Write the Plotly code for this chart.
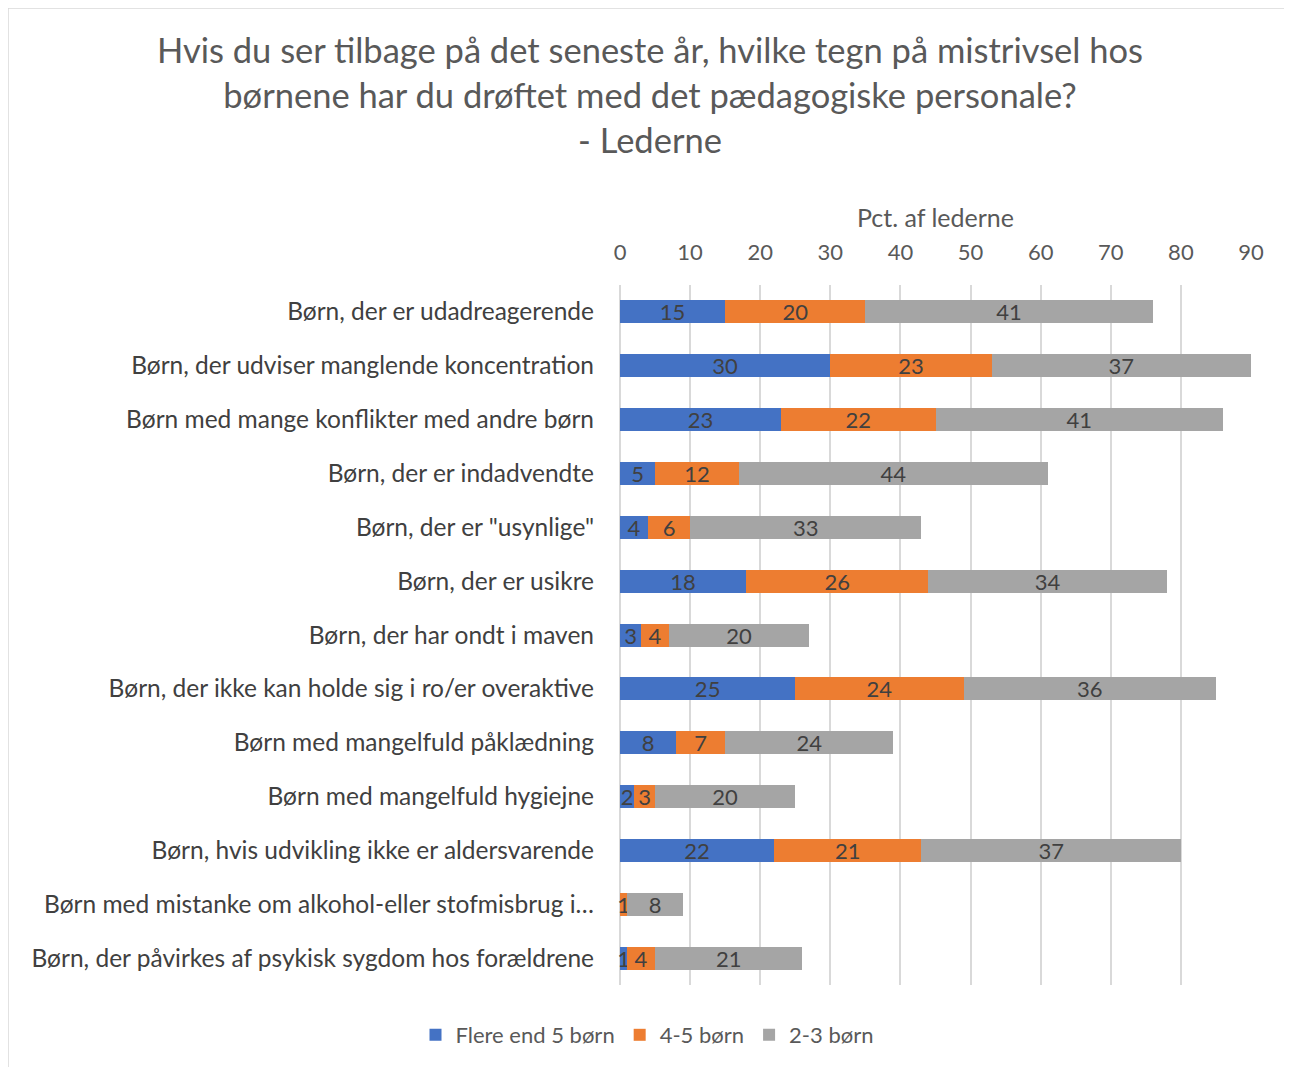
import plotly.graph_objects as go

categories = [
    "Børn, der er udadreagerende",
    "Børn, der udviser manglende koncentration",
    "Børn med mange konflikter med andre børn",
    "Børn, der er indadvendte",
    "Børn, der er \"usynlige\"",
    "Børn, der er usikre",
    "Børn, der har ondt i maven",
    "Børn, der ikke kan holde sig i ro/er overaktive",
    "Børn med mangelfuld påklædning",
    "Børn med mangelfuld hygiejne",
    "Børn, hvis udvikling ikke er aldersvarende",
    "Børn med mistanke om alkohol-eller stofmisbrug i…",
    "Børn, der påvirkes af psykisk sygdom hos forældrene",
]
flere_end_5 = [15, 30, 23, 5, 4, 18, 3, 25, 8, 2, 22, 0, 1]
fire_fem = [20, 23, 22, 12, 6, 26, 4, 24, 7, 3, 21, 1, 4]
to_tre = [41, 37, 41, 44, 33, 34, 20, 36, 24, 20, 37, 8, 21]
series_names = ["Flere end 5 børn", "4-5 børn", "2-3 børn"]
colors = ["#4472C4", "#ED7D31", "#A5A5A5"]
x_ticks = [0, 10, 20, 30, 40, 50, 60, 70, 80, 90]

FONT = "Lato"
W, H = 1292, 1067
ml, mr, mt, mb = 612, 49, 277, 90

fig = go.Figure()
for name, vals, col in zip(series_names, [flere_end_5, fire_fem, to_tre], colors):
    fig.add_trace(go.Bar(
        y=categories, x=vals, name=name, orientation="h",
        marker=dict(color=col, line=dict(width=0)),
        text=[str(v) if v else "" for v in vals],
        textposition="inside", insidetextanchor="middle", textangle=0,
        textfont=dict(family=FONT, size=22, color="#404040"),
        constraintext="none", cliponaxis=False,
    ))

fig.update_layout(
    width=W, height=H,
    barmode="stack", bargap=0.573,
    margin=dict(l=ml, r=mr, t=mt, b=mb, autoexpand=False),
    paper_bgcolor="white", plot_bgcolor="white",
    font=dict(family=FONT, color="#595959"),
    uniformtext=dict(minsize=8, mode="show"),
    title=dict(
        text="Hvis du ser tilbage på det seneste år, hvilke tegn på mistrivsel hos<br>børnene har du drøftet med det pædagogiske personale?<br>- Lederne",
        x=642 / W, xref="container", xanchor="center",
        y=1 - 55 / H, yref="container", yanchor="middle",
        font=dict(family=FONT, size=34.5, color="#595959"),
    ),
    xaxis=dict(
        side="top", range=[0, 90], tickvals=x_ticks, automargin=False,
        showgrid=True, gridcolor="#D9D9D9", gridwidth=2,
        zeroline=True, zerolinecolor="#D9D9D9", zerolinewidth=2,
        showline=False, ticks="", ticklabelstandoff=20,
        tickfont=dict(family=FONT, size=22, color="#595959"),
        title=dict(text="Pct. af lederne", font=dict(family=FONT, size=25, color="#595959"), standoff=2),
    ),
    yaxis=dict(
        autorange="reversed", showgrid=False, showline=False, ticks="", automargin=False,
        tickfont=dict(family=FONT, size=24.5, color="#404040"),
        ticklabelstandoff=25,
    ),
    legend=dict(
        orientation="h", xref="container", yref="container",
        x=639 / W, xanchor="center", y=1 - 1027 / H, yanchor="middle",
        font=dict(family=FONT, size=22, color="#595959"),
        traceorder="normal", itemwidth=30,
    ),
    shapes=[dict(
        type="rect", xref="paper", yref="paper",
        x0=(0 - ml) / (W - ml - mr), x1=(1282 - ml) / (W - ml - mr),
        y0=(H - mb - 1075) / (H - mt - mb), y1=(H - mb - 0) / (H - mt - mb),
        line=dict(color="#D9D9D9", width=1.5), fillcolor="rgba(0,0,0,0)", layer="below",
    )],
)

fig.write_html("out.html")
